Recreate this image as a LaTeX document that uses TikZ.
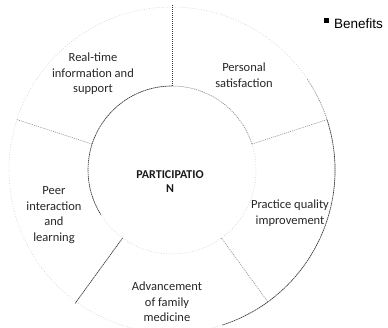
\documentclass[tikz,border=0pt]{standalone}
\usepackage{fontspec}
\setmainfont{Carlito}
\newfontfamily\legendfont{Liberation Sans}
\begin{document}
\begin{tikzpicture}[x=1pt,y=1pt,
  faint/.style={black!22,dash pattern=on 0.8pt off 1.8pt,line width=0.5pt},
  mid/.style={black!50,dash pattern=on 1pt off 1pt,line width=0.55pt},
  dark/.style={black!80,dash pattern=on 1.4pt off 0.6pt,line width=0.65pt},
  lbl/.style={align=center,text=black!85,font=\fontsize{12.5}{15.5}\selectfont}]
\useasboundingbox (0,0) rectangle (388,327);
\clip (0,0) rectangle (388,327);
\coordinate (c) at (172,157);
% ring of five sectors
\draw[faint] (c) circle[radius=84];
\draw[faint] (c) circle[radius=163];
\foreach \a in {18,162,306} {
  \draw[mid] ([shift={(\a:84)}]c) -- ([shift={(\a:163)}]c);
}
\foreach \a in {90,234} {
  \draw[dark] ([shift={(\a:84)}]c) -- ([shift={(\a:165)}]c);
}
\draw[dark] ([shift={(90:84)}]c) arc[start angle=90,end angle=212,radius=84];
\draw[mid] ([shift={(18:84)}]c) arc[start angle=18,end angle=90,radius=84];
\draw[dark] ([shift={(-72:163)}]c) arc[start angle=-72,end angle=18,radius=163];
\draw[mid] ([shift={(18:163)}]c) arc[start angle=18,end angle=34,radius=163];
% labels
\node[lbl] (realtime) at (93,253) {Real-time\\information and\\support};
\node[lbl] (personal) at (244,252) {Personal\\satisfaction};
\node[lbl] (practice) at (290,114) {Practice quality\\improvement};
\node[lbl] (advance) at (167,25) {Advancement\\of family\\medicine};
\node[lbl] (peer) at (54,112) {Peer\\interaction\\and\\learning};
\node[align=center,text=black!90,font=\fontsize{12}{14}\selectfont\bfseries] (hub) at (170,145) {PARTICIPATIO\\N};
% legend
\fill[black] (323.5,303.5) rectangle (328.5,308.5);
\node[anchor=west,inner sep=0pt,font=\legendfont\fontsize{13.5}{16}\selectfont] (legend) at (334,303.5) {Benefits};
\end{tikzpicture}
\end{document}
